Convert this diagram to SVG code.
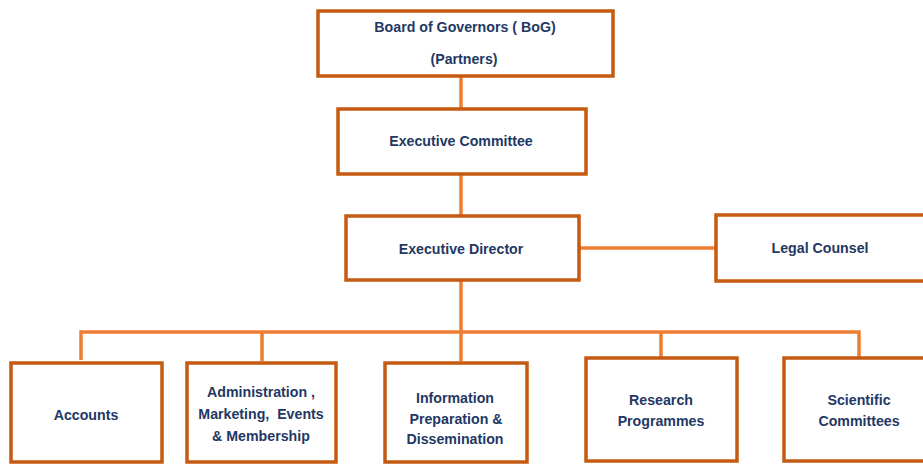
<svg xmlns="http://www.w3.org/2000/svg" width="923" height="465" viewBox="0 0 923 465">
<style>
.box{fill:#fff;stroke:#C55A11;stroke-width:3.5}
.con{fill:none;stroke:#ED7D31;stroke-width:3.5}
text{font-family:"Liberation Sans",Arial,sans-serif;font-weight:bold;font-size:14.2px;fill:#1F3864;text-anchor:middle;white-space:pre}
</style>
<rect width="923" height="465" fill="#fff"/>
<g id="connectors">
<line class="con" x1="461" y1="77" x2="461" y2="108"/>
<line class="con" x1="461" y1="175" x2="461" y2="215"/>
<line class="con" x1="580" y1="248" x2="715" y2="248"/>
<line class="con" x1="461" y1="281" x2="461" y2="332"/>
<polyline class="con" points="81,360 81,332 859,332 859,358"/>
<line class="con" x1="262" y1="332" x2="262" y2="361"/>
<line class="con" x1="461" y1="332" x2="461" y2="361"/>
<line class="con" x1="661" y1="332" x2="661" y2="358"/>
</g>
<g id="bog">
<rect class="box" x="318" y="11" width="295" height="65"/>
<text x="465" y="32">Board of Governors ( BoG)</text>
<text x="464" y="64">(Partners)</text>
</g>
<g id="exec-committee">
<rect class="box" x="338" y="109" width="248" height="65"/>
<text x="461" y="146">Executive Committee</text>
</g>
<g id="exec-director">
<rect class="box" x="346" y="216" width="233" height="64"/>
<text x="461" y="254">Executive Director</text>
</g>
<g id="legal-counsel">
<rect class="box" x="716" y="215" width="215" height="66"/>
<text x="820" y="253">Legal Counsel</text>
</g>
<g id="accounts">
<rect class="box" x="11" y="363" width="151" height="99"/>
<text x="86" y="420">Accounts</text>
</g>
<g id="admin">
<rect class="box" x="187" y="363" width="149" height="99"/>
<text x="261" y="397">Administration ,</text>
<text x="261" y="419" xml:space="preserve">Marketing,  Events</text>
<text x="261" y="441">&amp; Membership</text>
</g>
<g id="information">
<rect class="box" x="385" y="363" width="142" height="99"/>
<text x="455" y="403">Information</text>
<text x="456" y="424">Preparation &amp;</text>
<text x="455" y="444">Dissemination</text>
</g>
<g id="research">
<rect class="box" x="586" y="358" width="151" height="103"/>
<text x="661" y="405">Research</text>
<text x="661" y="426">Programmes</text>
</g>
<g id="scientific">
<rect class="box" x="784" y="358" width="145" height="103"/>
<text x="859" y="405">Scientific</text>
<text x="859" y="426">Committees</text>
</g>
</svg>
